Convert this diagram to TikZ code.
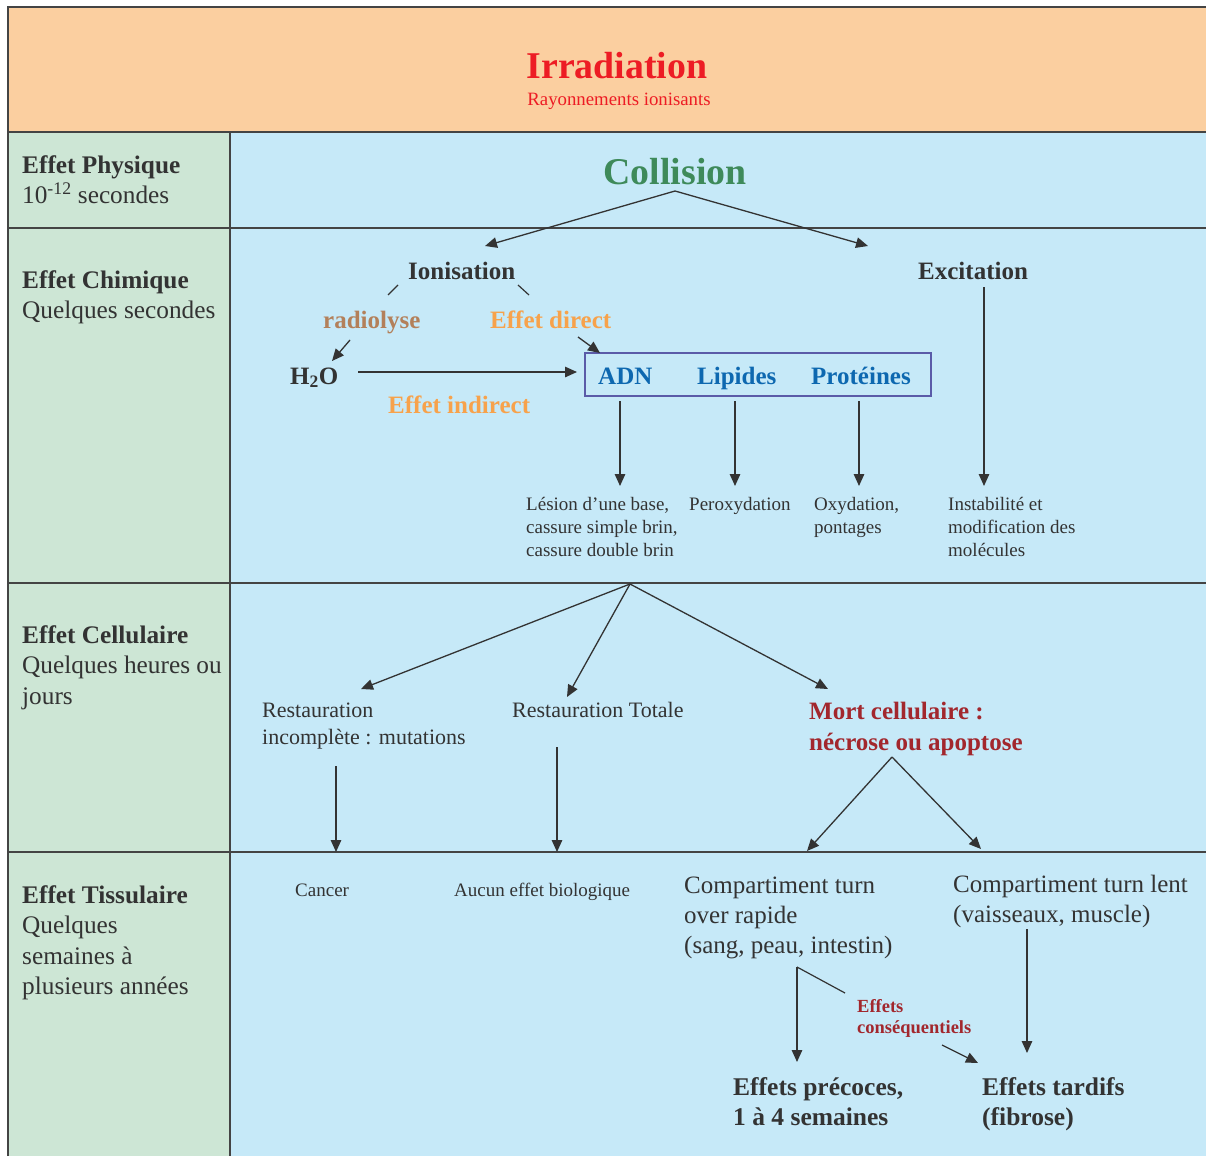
\documentclass[tikz,border=0pt]{standalone}
\usepackage{fontspec}
\setmainfont{Liberation Serif}
\usetikzlibrary{arrows.meta}
\definecolor{hdr}{HTML}{FBCFA0}
\definecolor{lcol}{HTML}{CDE6D5}
\definecolor{bcol}{HTML}{C6E9F8}
\definecolor{txt}{HTML}{333333}
\definecolor{lin}{HTML}{444444}
\definecolor{redA}{HTML}{ED1C24}
\definecolor{grn}{HTML}{3E8A5A}
\definecolor{brn}{HTML}{B3805A}
\definecolor{org}{HTML}{F7A24B}
\definecolor{blu}{HTML}{0D68B0}
\definecolor{boxc}{HTML}{5A5BA8}
\definecolor{dred}{HTML}{A2272D}
\newcommand\mlines[1]{\begin{tabular}[t]{@{}l@{}}#1\end{tabular}}
\newcommand\fs[2]{\fontsize{#1}{#2}\selectfont}
\begin{document}
\begin{tikzpicture}[x=1pt,y=-1pt,
  lbl/.style={anchor=base west, inner sep=0pt, text=txt},
  ctr/.style={anchor=base, inner sep=0pt},
  conn/.style={draw=txt, line width=1.3pt, -{Triangle[length=12pt,width=10.5pt]}},
  plainln/.style={draw=txt, line width=1.2pt},
  sep/.style={draw=lin, line width=1.6pt},
  bigb/.style={font=\fs{25}{30}\bfseries},
  leftlab/.style={lbl, font=\fs{25.3}{30.5}}]
\useasboundingbox (0,0) rectangle (1206,1156);
% backgrounds
\fill[white] (0,0) rectangle (1206,1156);
\fill[hdr] (8,7) rectangle (1206,132);
\fill[lcol] (8,132) rectangle (230,1156);
\fill[bcol] (230,132) rectangle (1206,1156);
% frame
\draw[sep, line width=2pt] (8,1156) -- (8,7) -- (1206,7);
\draw[sep, line width=2pt] (8,132) -- (1206,132);
\draw[sep] (8,228) -- (1206,228);
\draw[sep] (8,583) -- (1206,583);
\draw[sep] (8,852) -- (1206,852);
\draw[sep] (230,132) -- (230,1156);
% header
\node[ctr, text=redA, font=\fs{37.8}{40}\bfseries] (irr) at (617,78) {Irradiation};
\node[ctr, text=redA, font=\fs{18.8}{20}] (ray) at (619,105) {Rayonnements ionisants};
% left labels
\node[leftlab] (phys) at (22,173) {\mlines{\textbf{Effet Physique}\\10\textsuperscript{-12} secondes}};
\node[leftlab] (chim) at (22,288) {\mlines{\textbf{Effet Chimique}\\Quelques secondes}};
\node[leftlab] (cell) at (22,643) {\mlines{\textbf{Effet Cellulaire}\\Quelques heures ou\\jours}};
\node[leftlab] (tiss) at (22,903) {\mlines{\textbf{Effet Tissulaire}\\Quelques\\semaines à\\plusieurs années}};
% physical
\node[ctr, text=grn, font=\fs{37.8}{40}\bfseries] (coll) at (675,184) {Collision};
% chemical
\node[lbl, bigb] (ionis) at (408,279) {Ionisation};
\node[lbl, bigb] (excit) at (918,279) {Excitation};
\node[lbl, bigb, text=brn] (radio) at (323,328) {radiolyse};
\node[lbl, bigb, text=org] (edir) at (490,328) {Effet direct};
\node[lbl, bigb] (h2o) at (290,384) {H\textsubscript{2}O};
\node[lbl, bigb, text=org] (eind) at (388,413) {Effet indirect};
\node[draw=boxc, line width=1.3pt, minimum width=346pt, minimum height=43pt, inner sep=0pt] (box) at (758,374.5) {};
\node[lbl, bigb, text=blu] (adn) at (598,384) {ADN};
\node[lbl, bigb, text=blu] (lip) at (697,384) {Lipides};
\node[lbl, bigb, text=blu] (prot) at (811,384) {Protéines};
\node[lbl, font=\fs{19}{23}] (lesion) at (526,510) {\mlines{Lésion d’une base,\\cassure simple brin,\\cassure double brin}};
\node[lbl, font=\fs{19}{23}] (perox) at (689,510) {Peroxydation};
\node[lbl, font=\fs{19}{23}] (oxyd) at (814,510) {\mlines{Oxydation,\\pontages}};
\node[lbl, font=\fs{19}{23}] (instab) at (948,510) {\mlines{Instabilité et\\modification des\\molécules}};
% cellular
\node[lbl, font=\fs{22}{27}] (restinc) at (262,717) {\mlines{Restauration\\incomplète : mutations}};
\node[lbl, font=\fs{22}{27}] (resttot) at (512,717) {Restauration Totale};
\node[lbl, text=dred, font=\fs{25}{31}\bfseries] (mort) at (809,719) {\mlines{Mort cellulaire :\\nécrose ou apoptose}};
% tissue
\node[lbl, font=\fs{19}{22}] (cancer) at (295,896) {Cancer};
\node[lbl, font=\fs{19}{22}] (aucun) at (454,896) {Aucun effet biologique};
\node[lbl, font=\fs{25}{30}] (comprap) at (684,893) {\mlines{Compartiment turn\\over rapide\\(sang, peau, intestin)}};
\node[lbl, font=\fs{25}{30}] (complent) at (953,892) {\mlines{Compartiment turn lent\\(vaisseaux, muscle)}};
\node[lbl, text=dred, font=\fs{18.5}{21}\bfseries] (conseq) at (857,1012) {\mlines{Effets\\conséquentiels}};
\node[lbl, font=\fs{25.5}{30}\bfseries] (precoce) at (733,1095) {\mlines{Effets précoces,\\1 à 4 semaines}};
\node[lbl, font=\fs{25.5}{30}\bfseries] (tardif) at (982,1095) {\mlines{Effets tardifs\\(fibrose)}};
% coordinates for connectors
\coordinate (collR) at (675,191);
\coordinate (ionT) at (485,246);
\coordinate (excT) at (868,246);
\coordinate (ionL1) at (398,285); \coordinate (ionL2) at (388,295);
\coordinate (ionR1) at (518,285); \coordinate (ionR2) at (529,295);
\coordinate (radB) at (350,340); \coordinate (h2oT) at (332,361);
\coordinate (edB) at (578,337); \coordinate (boxTL) at (600,353);
\coordinate (h2oR) at (358,372); \coordinate (boxL) at (577,372);
\coordinate (adnB) at (620,401); \coordinate (lesT) at (620,486);
\coordinate (lipB) at (735,401); \coordinate (perT) at (735,486);
\coordinate (proB) at (859,401); \coordinate (oxyT) at (859,486);
\coordinate (excB) at (984,287); \coordinate (insT) at (984,486);
\coordinate (cellR) at (630,584);
\coordinate (riT) at (361,689); \coordinate (rtT) at (567,697); \coordinate (moT) at (828,689);
\coordinate (riB) at (336,766); \coordinate (canT) at (336,852);
\coordinate (rtB) at (557,747); \coordinate (aucT) at (557,852);
\coordinate (moB) at (892,757); \coordinate (crT) at (807,851); \coordinate (clT) at (981,849);
\coordinate (crB) at (797,967); \coordinate (preT) at (797,1062); \coordinate (crD) at (845,993);
\coordinate (csB) at (942,1045); \coordinate (tarT) at (978,1063);
\coordinate (clB) at (1027,929); \coordinate (tarT2) at (1027,1053);
% connectors
\draw[conn] (collR) -- (ionT);
\draw[conn] (collR) -- (excT);
\draw[plainln] (ionL1) -- (ionL2);
\draw[plainln] (ionR1) -- (ionR2);
\draw[conn] (radB) -- (h2oT);
\draw[conn] (edB) -- (boxTL);
\draw[conn] (h2oR) -- (boxL);
\draw[conn] (adnB) -- (lesT);
\draw[conn] (lipB) -- (perT);
\draw[conn] (proB) -- (oxyT);
\draw[conn] (excB) -- (insT);
\draw[conn] (cellR) -- (riT);
\draw[conn] (cellR) -- (rtT);
\draw[conn] (cellR) -- (moT);
\draw[conn] (riB) -- (canT);
\draw[conn] (rtB) -- (aucT);
\draw[conn] (moB) -- (crT);
\draw[conn] (moB) -- (clT);
\draw[conn] (crB) -- (preT);
\draw[plainln] (crB) -- (crD);
\draw[conn] (csB) -- (tarT);
\draw[conn] (clB) -- (tarT2);
\end{tikzpicture}
\end{document}
